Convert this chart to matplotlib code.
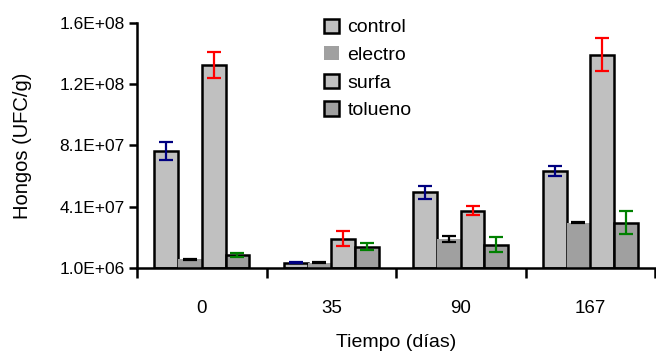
import matplotlib.pyplot as plt
import numpy as np

plt.rcParams['font.family'] = ['Liberation Sans', 'DejaVu Sans']

# data
tiempos = ["0", "35", "90", "167"]
series = ["control", "electro", "surfa", "tolueno"]

control = [7.7e7, 4.4e6, 5.0e7, 6.4e7]
electro = [6.6e6, 4.3e6, 1.98e7, 3.04e7]
surfa = [1.33e8, 2.0e7, 3.82e7, 1.394e8]
tolueno = [9.4e6, 1.48e7, 1.61e7, 3.04e7]

control_err = [5.8e6, 3e5, 4.1e6, 3.2e6]
electro_err = [3e5, 3e5, 1.9e6, 4e5]
surfa_err = [8.4e6, 4.7e6, 2.8e6, 1.06e7]
tolueno_err = [1.0e6, 2.1e6, 4.8e6, 7.4e6]

ytick_vals = [1.0e6, 4.075e7, 8.05e7, 1.2025e8, 1.6e8]
ytick_labels = ["1.0E+06", "4.1E+07", "8.1E+07", "1.2E+08", "1.6E+08"]

values = [control, electro, surfa, tolueno]
errors = [control_err, electro_err, surfa_err, tolueno_err]
fills = ['#c0c0c0', '#a0a0a0', '#c0c0c0', '#a0a0a0']
edges = ['black', 'none', 'black', 'black']
err_colors = ['#000080', 'black', '#ff0000', '#008000']

fig = plt.figure(figsize=(6.56, 3.54), dpi=100)
ax = fig.add_axes([0.209, 0.243, 0.7895, 0.692])

ymin = 1.0e6
centers = np.arange(len(tiempos)) + 0.5
w = 0.183
for i, name in enumerate(series):
    x = centers + (i - 1.5) * w
    vals = np.array(values[i])
    ax.bar(x, vals - ymin, width=w, bottom=ymin, color=fills[i],
           edgecolor=edges[i], linewidth=1.8, label=name, zorder=2)
    ax.errorbar(x, vals, yerr=errors[i], fmt='none', ecolor=err_colors[i],
                elinewidth=1.6, capsize=5, capthick=1.6, zorder=3)

ax.set_xlim(0, len(tiempos))
ax.set_ylim(ymin, 1.6e8)
ax.set_yticks(ytick_vals)
ax.set_yticklabels(ytick_labels, fontsize=12.5)

ax.set_xticks(np.arange(len(tiempos) + 1))
ax.set_xticklabels([])
ax.set_xticks(centers, minor=True)
ax.set_xticklabels(tiempos, minor=True, fontsize=13.5)
ax.tick_params(axis='x', which='major', direction='out', length=7, width=1.8)
ax.tick_params(axis='x', which='minor', length=0, pad=23)
ax.tick_params(axis='y', direction='out', length=6, width=1.8, pad=3)

for s in ['top', 'right']:
    ax.spines[s].set_visible(False)
for s in ['left', 'bottom']:
    ax.spines[s].set_linewidth(1.8)

ax.set_ylabel("Hongos (UFC/g)", fontsize=14.5, labelpad=20)
ax.set_xlabel("Tiempo (días)", fontsize=14, labelpad=12)

ax.legend(loc='upper left', bbox_to_anchor=(0.479, 0.975), bbox_transform=fig.transFigure,
          frameon=False, fontsize=14, handlelength=0.75, handleheight=0.75,
          handletextpad=0.45, labelspacing=0.5, borderpad=0)

fig.savefig("out.png", dpi=100)
